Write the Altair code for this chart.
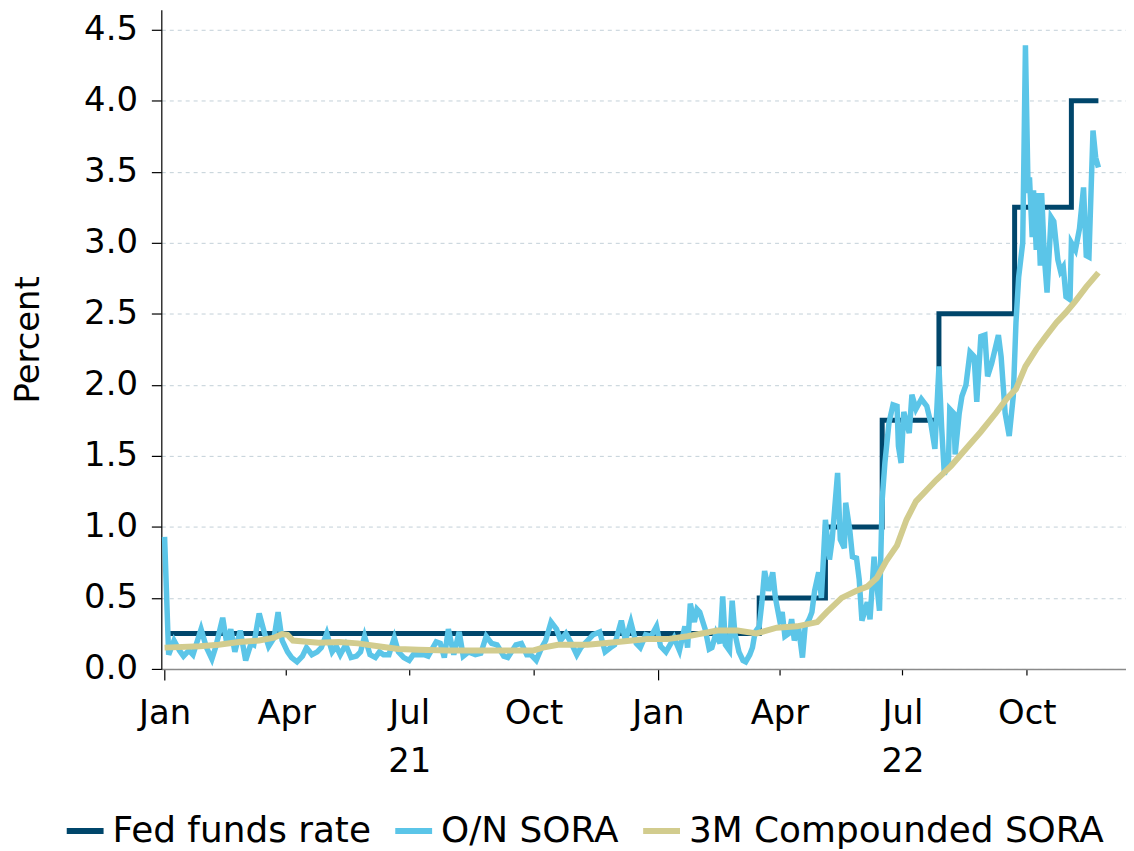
import altair as alt
import pandas as pd

# ---------------- data ----------------
series_names = ["Fed funds rate", "O/N SORA", "3M Compounded SORA"]
series_colors = ["#00466b", "#5bc5e8", "#d2cc8e"]

fed_dates = ["2021-01-04", "2022-03-17", "2022-05-05", "2022-06-16",
             "2022-07-28", "2022-09-22", "2022-11-03", "2022-11-23"]
fed_values = [0.25, 0.50, 1.00, 1.75, 2.50, 3.25, 4.00, 4.00]

sora_dates = [
    "2021-01-01", "2021-01-04", "2021-01-08", "2021-01-12", "2021-01-15", "2021-01-19",
    "2021-01-22", "2021-01-28", "2021-02-01", "2021-02-05", "2021-02-08", "2021-02-13",
    "2021-02-16", "2021-02-19", "2021-02-22", "2021-02-26", "2021-03-02", "2021-03-06",
    "2021-03-08", "2021-03-12", "2021-03-16", "2021-03-19", "2021-03-23", "2021-03-26",
    "2021-03-29", "2021-04-02", "2021-04-05", "2021-04-09", "2021-04-13", "2021-04-16",
    "2021-04-20", "2021-04-24", "2021-04-27", "2021-05-01", "2021-05-05", "2021-05-08",
    "2021-05-11", "2021-05-15", "2021-05-19", "2021-05-23", "2021-05-26", "2021-05-29",
    "2021-06-02", "2021-06-06", "2021-06-09", "2021-06-12", "2021-06-16", "2021-06-20",
    "2021-06-23", "2021-06-27", "2021-07-01", "2021-07-04", "2021-07-12", "2021-07-15",
    "2021-07-21", "2021-07-24", "2021-07-27", "2021-07-30", "2021-08-03", "2021-08-07",
    "2021-08-10", "2021-08-14", "2021-08-19", "2021-08-23", "2021-08-27", "2021-08-31",
    "2021-09-04", "2021-09-09", "2021-09-12", "2021-09-18", "2021-09-22", "2021-09-26",
    "2021-09-29", "2021-10-03", "2021-10-07", "2021-10-10", "2021-10-14", "2021-10-18",
    "2021-10-21", "2021-10-25", "2021-10-29", "2021-11-02", "2021-11-05", "2021-11-10",
    "2021-11-14", "2021-11-19", "2021-11-23", "2021-11-27", "2021-11-30", "2021-12-05",
    "2021-12-08", "2021-12-12", "2021-12-16", "2021-12-19", "2021-12-23", "2021-12-27",
    "2021-12-31", "2022-01-03", "2022-01-07", "2022-01-10", "2022-01-13", "2022-01-17",
    "2022-01-21", "2022-01-23", "2022-01-25", "2022-01-28", "2022-01-30", "2022-02-01",
    "2022-02-05", "2022-02-08", "2022-02-10", "2022-02-13", "2022-02-16", "2022-02-18",
    "2022-02-20", "2022-02-23", "2022-02-25", "2022-02-27", "2022-03-02", "2022-03-05",
    "2022-03-07", "2022-03-10", "2022-03-12", "2022-03-14", "2022-03-17", "2022-03-19",
    "2022-03-21", "2022-03-24", "2022-03-27", "2022-03-29", "2022-04-01", "2022-04-03",
    "2022-04-05", "2022-04-08", "2022-04-10", "2022-04-12", "2022-04-15", "2022-04-18",
    "2022-04-20", "2022-04-23", "2022-04-25", "2022-04-27", "2022-04-30", "2022-05-02",
    "2022-05-05", "2022-05-08", "2022-05-10", "2022-05-14", "2022-05-16", "2022-05-19",
    "2022-05-20", "2022-05-23", "2022-05-25", "2022-05-28", "2022-05-30", "2022-06-01",
    "2022-06-05", "2022-06-07", "2022-06-10", "2022-06-14", "2022-06-16", "2022-06-18",
    "2022-06-21", "2022-06-24", "2022-06-27", "2022-06-28", "2022-06-30", "2022-07-02",
    "2022-07-06", "2022-07-08", "2022-07-11", "2022-07-15", "2022-07-19", "2022-07-22",
    "2022-07-25", "2022-07-28", "2022-07-30", "2022-08-01", "2022-08-04", "2022-08-05",
    "2022-08-08", "2022-08-09", "2022-08-12", "2022-08-14", "2022-08-17", "2022-08-20",
    "2022-08-23", "2022-08-25", "2022-08-28", "2022-08-31", "2022-09-02", "2022-09-05",
    "2022-09-10", "2022-09-12", "2022-09-15", "2022-09-18", "2022-09-21", "2022-09-23",
    "2022-09-25", "2022-09-28", "2022-09-30", "2022-10-02", "2022-10-03", "2022-10-05",
    "2022-10-06", "2022-10-08", "2022-10-09", "2022-10-11", "2022-10-12", "2022-10-14",
    "2022-10-16", "2022-10-19", "2022-10-21", "2022-10-24", "2022-10-26", "2022-10-28",
    "2022-10-30", "2022-11-02", "2022-11-03", "2022-11-06", "2022-11-09", "2022-11-12",
    "2022-11-14", "2022-11-16", "2022-11-19", "2022-11-21", "2022-11-23",
]
sora_values = [
    0.93, 0.10, 0.20, 0.13, 0.09, 0.13,
    0.10, 0.28, 0.15, 0.07, 0.16, 0.36,
    0.18, 0.28, 0.12, 0.27, 0.06, 0.18,
    0.17, 0.39, 0.25, 0.16, 0.22, 0.40,
    0.20, 0.12, 0.08, 0.05, 0.09, 0.15,
    0.10, 0.12, 0.15, 0.25, 0.12, 0.16,
    0.10, 0.17, 0.08, 0.09, 0.12, 0.23,
    0.10, 0.08, 0.12, 0.10, 0.10, 0.22,
    0.12, 0.08, 0.06, 0.10, 0.10, 0.09,
    0.19, 0.18, 0.08, 0.28, 0.10, 0.26,
    0.09, 0.12, 0.10, 0.11, 0.23, 0.18,
    0.17, 0.09, 0.08, 0.17, 0.18, 0.10,
    0.10, 0.06, 0.15, 0.20, 0.33, 0.28,
    0.20, 0.25, 0.18, 0.10, 0.15, 0.20,
    0.24, 0.26, 0.12, 0.15, 0.17, 0.34,
    0.20, 0.33, 0.18, 0.15, 0.24, 0.23,
    0.30, 0.16, 0.12, 0.17, 0.22, 0.13,
    0.30, 0.15, 0.46, 0.33, 0.42, 0.40,
    0.28, 0.14, 0.15, 0.25, 0.18, 0.51,
    0.17, 0.13, 0.48, 0.25, 0.12, 0.06,
    0.05, 0.10, 0.15, 0.26, 0.30, 0.47,
    0.69, 0.55, 0.68, 0.50, 0.35, 0.40,
    0.23, 0.25, 0.35, 0.20, 0.30, 0.08,
    0.30, 0.35, 0.40, 0.55, 0.68, 0.50,
    1.05, 0.77, 0.91, 1.38, 0.91, 0.85,
    1.17, 0.98, 0.79, 0.78, 0.63, 0.34,
    0.47, 0.35, 0.79, 0.41, 1.19, 1.45,
    1.73, 1.86, 1.85, 1.57, 1.45, 1.81,
    1.66, 1.93, 1.83, 1.90, 1.85, 1.73,
    1.55, 2.13, 1.70, 1.37, 1.45, 1.83,
    1.80, 1.51, 1.80, 1.92, 2.00, 2.23,
    2.20, 1.88, 2.34, 2.35, 2.06, 2.15,
    2.35, 2.20, 1.80, 1.64, 1.92, 2.44,
    2.76, 3.00, 4.39, 3.35, 3.46, 3.04,
    3.37, 2.95, 3.35, 2.84, 3.35, 2.90,
    2.65, 3.18, 3.15, 2.88, 2.80, 2.83,
    2.62, 2.60, 3.00, 2.95, 3.10, 3.39,
    2.91, 2.90, 3.79, 3.60, 3.53,
]

c3m_dates = [
    "2021-01-01", "2021-01-27", "2021-02-10", "2021-02-25", "2021-03-12", "2021-03-23",
    "2021-03-29", "2021-04-02", "2021-04-06", "2021-04-25", "2021-05-10", "2021-05-24",
    "2021-06-08", "2021-06-23", "2021-07-08", "2021-07-30", "2021-08-21", "2021-09-12",
    "2021-10-01", "2021-10-08", "2021-10-19", "2021-11-10", "2021-12-02", "2021-12-24",
    "2022-01-08", "2022-01-23", "2022-02-14", "2022-03-01", "2022-03-15", "2022-03-30",
    "2022-04-14", "2022-04-29", "2022-05-06", "2022-05-17", "2022-05-28", "2022-06-05",
    "2022-06-12", "2022-06-19", "2022-06-27", "2022-07-04", "2022-07-11", "2022-07-26",
    "2022-08-06", "2022-08-17", "2022-08-28", "2022-09-08", "2022-09-16", "2022-09-23",
    "2022-09-30", "2022-10-08", "2022-10-15", "2022-10-23", "2022-10-30", "2022-11-06",
    "2022-11-14", "2022-11-23",
]
c3m_values = [
    0.15, 0.16, 0.17, 0.19, 0.20, 0.22,
    0.245, 0.24, 0.20, 0.185, 0.19, 0.18,
    0.16, 0.14, 0.135, 0.13, 0.13, 0.13,
    0.13, 0.15, 0.17, 0.17, 0.19, 0.21,
    0.21, 0.23, 0.27, 0.27, 0.25, 0.29,
    0.30, 0.33, 0.40, 0.50, 0.55, 0.58,
    0.64, 0.76, 0.87, 1.05, 1.18, 1.33,
    1.43, 1.55, 1.67, 1.80, 1.90, 1.97,
    2.13, 2.25, 2.34, 2.44, 2.51, 2.59,
    2.69, 2.79,
]

y_ticks = [0.0, 0.5, 1.0, 1.5, 2.0, 2.5, 3.0, 3.5, 4.0, 4.5]

# ---------------- table ----------------
frames = []
for name, d, v in [(series_names[0], fed_dates, fed_values),
                   (series_names[1], sora_dates, sora_values),
                   (series_names[2], c3m_dates, c3m_values)]:
    frames.append(pd.DataFrame({"date": pd.to_datetime(d), "value": v, "series": name}))
df = pd.concat(frames, ignore_index=True)

FONT = "DejaVu Sans"
FS = 34

x_tick_values = [alt.DateTime(year=y, month=m, date=1)
                 for y in (2021, 2022) for m in (1, 4, 7, 10)]

x_enc = alt.X(
    "date:T",
    scale=alt.Scale(domain=[alt.DateTime(year=2020, month=12, date=29, hours=14),
                            alt.DateTime(year=2022, month=12, date=13, hours=10)]),
    axis=alt.Axis(
        values=x_tick_values,
        labelExpr="[timeFormat(datum.value, '%b'), month(datum.value) == 6 ? timeFormat(datum.value, '%y') : '']",
        title=None,
        labelFont=FONT, labelFontSize=FS, labelColor="black",
        labelLineHeight=48,
        labelPadding={"condition": {"test": "month(datum.value) == 0", "value": 17}, "value": 22},
        tickSize={"condition": {"test": "month(datum.value) == 0", "value": 11}, "value": 6},
        tickColor="black", tickWidth=1.2,
        domainColor="#8a8a8a", domainWidth=1.5,
        grid=False, labelOverlap=False, labelFlush=False,
    ),
)

y_enc = alt.Y(
    "value:Q",
    scale=alt.Scale(domain=[0, 4.64], nice=False),
    axis=alt.Axis(
        values=y_ticks, format=".1f",
        title="Percent", titleFont=FONT, titleFontSize=FS, titleFontWeight="normal",
        titleColor="black", titlePadding=38,
        labelFont=FONT, labelFontSize=FS, labelColor="black", labelPadding=14,
        tickSize=10, tickColor="black", tickWidth=1.2,
        domainColor="black", domainWidth=1.2,
        grid=True, gridColor="#c3d0d8", gridDash=[4, 4], gridWidth=1,
    ),
)

color_enc = alt.Color(
    "series:N",
    scale=alt.Scale(domain=series_names, range=series_colors),
    legend=alt.Legend(
        title=None, orient="none", direction="horizontal",
        legendX=-98, legendY=803,
        symbolType="stroke", symbolStrokeWidth=6, symbolSize=1369,
        labelFont=FONT, labelFontSize=36, labelColor="black",
        labelOffset=6, columnPadding=12, labelLimit=0,
    ),
)

base = alt.Chart(df).encode(x=x_enc, y=y_enc, color=color_enc)

fed = base.transform_filter(alt.datum.series == series_names[0]).mark_line(
    strokeWidth=5, interpolate="step-after")
sora = base.transform_filter(alt.datum.series == series_names[1]).mark_line(strokeWidth=5.5)
c3m = base.transform_filter(alt.datum.series == series_names[2]).mark_line(strokeWidth=6)

chart = alt.layer(fed, sora, c3m).properties(
    width=969, height=662,
    padding={"left": 3, "top": 0, "right": 0, "bottom": 0},
    background="white",
).configure_view(stroke=None)

chart.save("out.html", embed_options={"renderer": "svg", "actions": False})
